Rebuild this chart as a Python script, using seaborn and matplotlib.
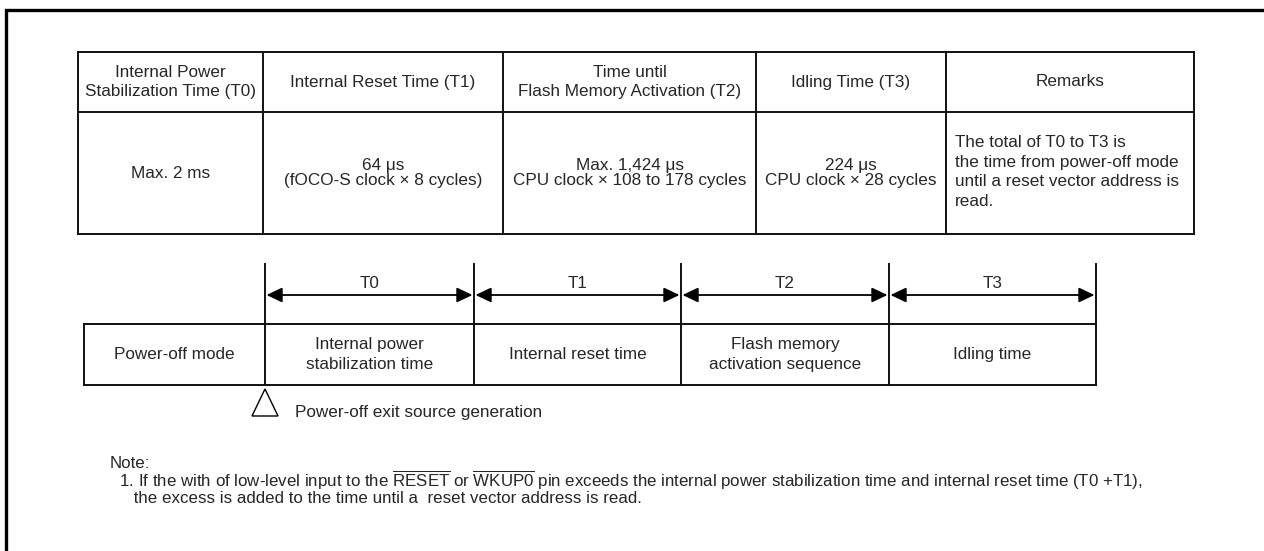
import matplotlib
matplotlib.use("Agg")
import matplotlib.pyplot as plt
import seaborn as sns
from matplotlib.patches import Polygon

# table contents
headers = [
    "Internal Power\nStabilization Time (T0)",
    "Internal Reset Time (T1)",
    "Time until\nFlash Memory Activation (T2)",
    "Idling Time (T3)",
    "Remarks",
]
values = [
    "Max. 2 ms",
    "64 \u03bcs\n(fOCO-S clock \u00d7 8 cycles)",
    "Max. 1,424 \u03bcs\nCPU clock \u00d7 108 to 178 cycles",
    "224 \u03bcs\nCPU clock \u00d7 28 cycles",
    "The total of T0 to T3 is\nthe time from power-off mode\nuntil a reset vector address is\nread.",
]

# timing sequence
phases = [
    "Power-off mode",
    "Internal power\nstabilization time",
    "Internal reset time",
    "Flash memory\nactivation sequence",
    "Idling time",
]
periods = ["T0", "T1", "T2", "T3"]
trigger_label = "Power-off exit source generation"

note_title = "Note:"
note_lines = [
    r"1. If the with of low-level input to the $\overline{\mathrm{RESET}}$ or "
    r"$\overline{\mathrm{WKUP0}}$ pin exceeds the internal power stabilization "
    r"time and internal reset time (T0 +T1),",
    "the excess is added to the time until a  reset vector address is read.",
]

# layout, in pixels of the 1264x551 canvas
W, H = 1264, 551
table_x = [78, 263, 503, 756, 946, 1194]
table_y = [52, 112, 234]
seq_x = [84, 265, 474, 681, 889, 1096]
box_top, box_bot = 324, 385
tick_top = 264
arrow_y = 295
label_y = 283

sns.set_theme(style="white")
plt.rcParams["font.family"] = ["Liberation Sans", "DejaVu Sans"]
plt.rcParams["mathtext.fontset"] = "custom"
plt.rcParams["mathtext.rm"] = "Liberation Sans"

fig = plt.figure(figsize=(12.64, 5.51), dpi=100)
ax = fig.add_axes([0, 0, 1, 1])
ax.set_xlim(0, W)
ax.set_ylim(H, 0)
ax.axis("off")

line_kw = dict(color="#111111", lw=1.4, solid_capstyle="projecting")
fs = 12.3

# outer frame (top and left only visible)
ax.plot([6, 6, W + 5], [H + 5, 10, 10], color="black", lw=2.4, solid_joinstyle="miter")

# table grid
for x in table_x:
    ax.plot([x, x], [table_y[0], table_y[-1]], **line_kw)
for y in table_y:
    ax.plot([table_x[0], table_x[-1]], [y, y], **line_kw)

for i, (h, v) in enumerate(zip(headers, values)):
    cx = (table_x[i] + table_x[i + 1]) / 2
    ax.text(cx, (table_y[0] + table_y[1]) / 2, h, ha="center", va="center",
            fontsize=fs, linespacing=1.4)
    if i == len(values) - 1:
        ax.text(table_x[i] + 9, (table_y[1] + table_y[2]) / 2 - 1, v, ha="left",
                va="center", fontsize=fs, linespacing=1.4)
    else:
        ax.text(cx, (table_y[1] + table_y[2]) / 2, v, ha="center", va="center",
                fontsize=fs, linespacing=1.05)

# sequence boxes
ax.plot([seq_x[0], seq_x[-1]], [box_top, box_top], **line_kw)
ax.plot([seq_x[0], seq_x[-1]], [box_bot, box_bot], **line_kw)
ax.plot([seq_x[0], seq_x[0]], [box_top, box_bot], **line_kw)
for x in seq_x[1:]:
    ax.plot([x, x], [tick_top, box_bot], **line_kw)

for i, p in enumerate(phases):
    ax.text((seq_x[i] + seq_x[i + 1]) / 2, (box_top + box_bot) / 2, p,
            ha="center", va="center", fontsize=fs, linespacing=1.38)

for i, t in enumerate(periods):
    x0, x1 = seq_x[i + 1], seq_x[i + 2]
    ax.annotate("", xy=(x1 - 1.5, arrow_y), xytext=(x0 + 1.5, arrow_y),
                arrowprops=dict(arrowstyle="<|-|>,head_length=0.95,head_width=0.45",
                                mutation_scale=10, lw=1.3, color="black",
                                shrinkA=0, shrinkB=0))
    ax.text((x0 + x1) / 2, label_y, t, ha="center", va="center", fontsize=fs)

# trigger marker
tx = seq_x[1]
ax.add_patch(Polygon([[tx, 389], [tx - 13, 416], [tx + 13, 416]], closed=True,
                     fill=False, edgecolor="black", lw=1.0))
ax.text(295, 412, trigger_label, ha="left", va="center", fontsize=fs)

# note, one block so the lines keep the reference's tight spacing
note_block = "\n".join([note_title, "  " + note_lines[0], "     " + note_lines[1]])
ax.text(110, 481, note_block, ha="left", va="center", fontsize=12.2, linespacing=0.9)

fig.savefig("out.png", dpi=100)
